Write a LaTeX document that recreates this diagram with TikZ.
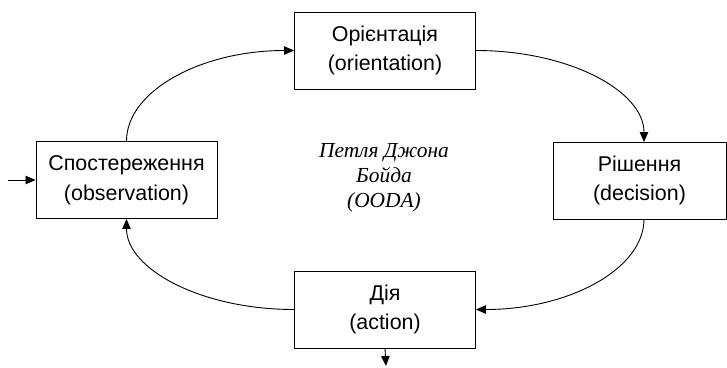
\documentclass[tikz,border=0pt]{standalone}
\usepackage{fontspec}
\setmainfont{Liberation Sans}
\newfontfamily\tnr{Liberation Serif}
\usetikzlibrary{arrows.meta}
\tikzset{
  box/.style={draw, line width=0.9bp, align=center, minimum width=181bp, minimum height=77bp, inner sep=0pt,
    font=\fontsize{21.5}{30}\selectfont},
  arr/.style={line width=0.9bp, -{Triangle[length=10bp,width=8.5bp]}},
}
\begin{document}
\begin{tikzpicture}[x=1bp,y=-1bp]
\useasboundingbox (0,0) rectangle (727,367);
\node[box] (obs) at (126.5,180) {Спостереження\\(observation)};
\node[box] (ori) at (385,50.5) {Орієнтація\\(orientation)};
\node[box, minimum width=173bp] (dec) at (639.5,180.5) {Рішення\\(decision)};
\node[box] (act) at (385,309.5) {Дія\\(action)};
\node[font=\tnr\itshape\fontsize{21.5}{25}\selectfont, align=center] (ooda) at (384,178) {Петля Джона\\Бойда\\(OODA)};
\coordinate (in) at (8,180);
\coordinate (out) at (386,366);
\coordinate (dtop) at (644,142);
\coordinate (dbot) at (644,219);
\draw[arr] (in) -- (obs.west);
\draw[arr] (act.south) -- (out);
\draw[arr] (obs.north) .. controls (126.5,91) and (201,50.5) .. (ori.west);
\draw[arr] (ori.east) .. controls (569,50.5) and (644,91) .. (dtop);
\draw[arr] (dbot) .. controls (644,269) and (569,309.5) .. (act.east);
\draw[arr] (act.west) .. controls (201,309.5) and (126.5,269) .. (obs.south);
\end{tikzpicture}
\end{document}
